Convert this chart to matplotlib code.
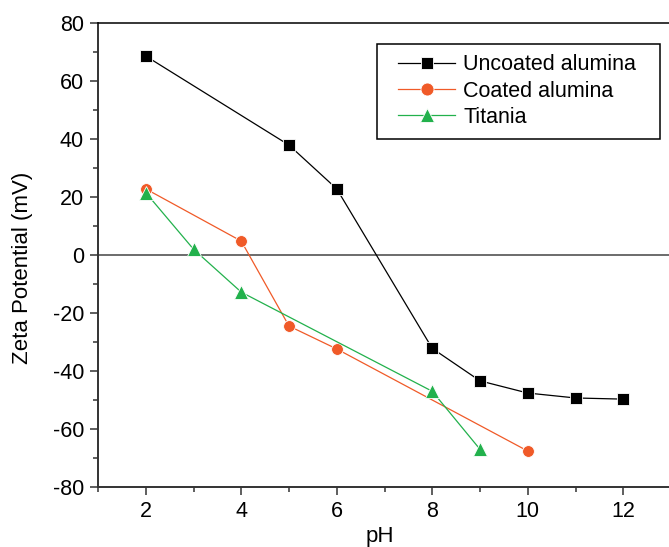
import numpy as np
from matplotlib import pyplot as plt
from matplotlib.ticker import MultipleLocator
from matplotlib.patches import Rectangle

plt.rcParams['font.family'] = ['Liberation Sans', 'DejaVu Sans']
plt.rcParams['axes.unicode_minus'] = False

# pH values and zeta potentials (mV)
ph_uncoated = [2, 5, 6, 8, 9, 10, 11, 12]
zeta_uncoated = [68.6, 37.9, 22.8, -32.2, -43.4, -47.6, -49.3, -49.7]

ph_coated = [2, 4, 5, 6, 10]
zeta_coated = [22.8, 4.8, -24.5, -32.4, -67.6]

ph_titania = [2, 3, 4, 8, 9]
zeta_titania = [21.5, 2.0, -12.8, -47.0, -67.0]

W, H = 669, 547
fig = plt.figure(figsize=(W / 100, H / 100), dpi=100, facecolor='w')
ax = fig.add_axes([98 / W, 60 / H, 573 / W, 464 / H])

ax.axhline(0, color='#444444', linewidth=1.1, zorder=1)

common = dict(linewidth=0.9, markeredgecolor='white', markeredgewidth=0.6, zorder=3)
ax.plot(ph_uncoated, zeta_uncoated, color='black', marker='s', markersize=8,
        label='Uncoated alumina', **common)
ax.plot(ph_coated, zeta_coated, color='#f05a28', marker='o', markersize=8.5,
        label='Coated alumina', **common)
ax.plot(ph_titania, zeta_titania, color='#22b14c', marker='^', markersize=9.5,
        label='Titania', **common)

ax.set_xlim(1, 13)
ax.set_ylim(-80, 80)
ax.xaxis.set_major_locator(MultipleLocator(2))
ax.xaxis.set_minor_locator(MultipleLocator(1))
ax.yaxis.set_major_locator(MultipleLocator(20))
ax.yaxis.set_minor_locator(MultipleLocator(10))

ax.tick_params(which='major', direction='out', length=6, width=1.1,
               labelsize=15.5, pad=4, color='#333333')
ax.tick_params(which='minor', direction='out', length=3.5, width=1.1, color='#333333')
ax.tick_params(top=False, right=False, which='both')

for side in ['left', 'bottom']:
    ax.spines[side].set_linewidth(1.4)
    ax.spines[side].set_color('#333333')
ax.spines['top'].set_linewidth(1.1)
ax.spines['right'].set_visible(False)

ax.set_xlabel('pH', fontsize=16)
ax.set_ylabel('Zeta Potential (mV)', fontsize=16)
ax.xaxis.set_label_coords(0.492, -0.083)
ax.yaxis.set_label_coords(-0.114, 0.473)

# legend box drawn separately to get Origin-like padding
fig.patches.append(Rectangle((377 / W, (H - 139) / H), 283 / W, 95 / H,
                             transform=fig.transFigure, fill=False,
                             edgecolor='black', linewidth=1.1, zorder=5))
leg = ax.legend(loc='center left', bbox_to_anchor=(398 / W, (H - 91) / H),
                bbox_transform=fig.transFigure, fontsize=15.5, frameon=False,
                handlelength=2.65, borderpad=0, borderaxespad=0,
                labelspacing=0.24, handletextpad=0.37, markerscale=1.1)

fig.savefig('out.png', dpi=100)
